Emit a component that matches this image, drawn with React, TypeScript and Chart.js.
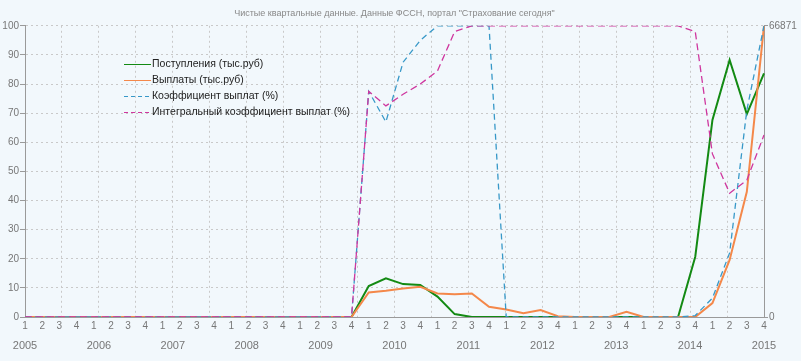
import React, { useEffect, useRef } from "react";
import { Chart, registerables } from "chart.js";

Chart.register(...registerables);

const titleText = 'Чистые квартальные данные. Данные ФССН, портал "Страхование сегодня"';

const quarterLabels: string[] = [
  "1", "2", "3", "4", "1", "2", "3", "4", "1", "2", "3", "4",
  "1", "2", "3", "4", "1", "2", "3", "4", "1", "2", "3", "4",
  "1", "2", "3", "4", "1", "2", "3", "4", "1", "2", "3", "4",
  "1", "2", "3", "4", "1", "2", "3", "4",
];

const yearMin = 2005;
const yearMax = 2015;

const seriesNames = [
  "Поступления (тыс.руб)",
  "Выплаты (тыс.руб)",
  "Коэффициент выплат (%)",
  "Интегральный коэффициент выплат (%)",
];

// thousand rubles (right axis)
const receipts: number[] = [
  0, 0, 0, 0, 0, 0, 0, 0, 0, 0, 0, 0, 0, 0, 0, 0, 0, 0, 0, 0,
  7090, 8894, 7556, 7356, 4681, 669, 0, 0, 0, 0, 0, 0, 0, 0, 0, 0,
  0, 0, 0, 13842, 45272, 59047, 46609, 55971,
];

const payments: number[] = [
  0, 0, 0, 0, 0, 0, 0, 0, 0, 0, 0, 0, 0, 0, 0, 0, 0, 0, 0, 0,
  5617, 6018, 6553, 6955, 5417, 5216, 5417, 2340, 1739, 869, 1605, 200,
  0, 0, 0, 1204, 0, 0, 0, 0, 3210, 13107, 28755, 66871,
];

// percent (left axis)
const ratio: number[] = [
  0, 0, 0, 0, 0, 0, 0, 0, 0, 0, 0, 0, 0, 0, 0, 0, 0, 0, 0, 0,
  77.5, 67, 87.5, 95, 100, 100, 100, 100, 0, 0, 0, 0, 0, 0, 0, 0,
  0, 0, 0, 0.5, 6.5, 22, 71, 100,
];

const integral: number[] = [
  0, 0, 0, 0, 0, 0, 0, 0, 0, 0, 0, 0, 0, 0, 0, 0, 0, 0, 0, 0,
  77.5, 72.5, 76.5, 80, 84.5, 98, 100, 100, 100, 100, 100, 100,
  100, 100, 100, 100, 100, 100, 100, 98, 56, 42.5, 47, 62.5,
];

const rightMax = 66871;
const rightTicks = [0, rightMax];

const colors = ["#138a13", "#f4884a", "#3798c8", "#cf379f"];
const dashes: number[][] = [[], [], [6, 4], [7, 4]];

const bgColor = "#f2f8fc";
const tickFont = "'Liberation Sans', Arial, sans-serif";

export default function App() {
  const ref = useRef<HTMLCanvasElement | null>(null);

  useEffect(() => {
    if (!ref.current) return;

    const bgPlugin = {
      id: "bg",
      beforeDraw(chart: any) {
        const { ctx, width, height } = chart;
        ctx.save();
        ctx.fillStyle = bgColor;
        ctx.fillRect(0, 0, width, height);
        ctx.restore();
      },
    };

    const legendPlugin = {
      id: "customLegend",
      afterDraw(chart: any) {
        const { ctx } = chart;
        const x0 = 124;
        const x1 = 151;
        const y0 = 63.5;
        const step = 16.3;
        ctx.save();
        ctx.font = "10.5px 'Liberation Sans', Arial, sans-serif";
        ctx.textBaseline = "middle";
        ctx.textAlign = "left";
        seriesNames.forEach((name, i) => {
          const y = Math.round(y0 + i * step) + 0.5;
          ctx.strokeStyle = colors[i];
          ctx.lineWidth = 1;
          ctx.setLineDash(i < 2 ? [] : [4, 3]);
          ctx.beginPath();
          ctx.moveTo(x0, y);
          ctx.lineTo(x1, y);
          ctx.stroke();
          ctx.setLineDash([]);
          ctx.fillStyle = "#222";
          ctx.fillText(name, x1 + 1, y);
        });
        ctx.restore();
      },
    };

    const chart = new Chart(ref.current, {
      type: "line",
      data: {
        labels: quarterLabels,
        datasets: [
          {
            label: seriesNames[0],
            data: receipts,
            yAxisID: "yR",
            xAxisID: "x",
            borderColor: colors[0],
            borderWidth: 2,
            pointRadius: 0,
            order: 3,
          },
          {
            label: seriesNames[1],
            data: payments,
            yAxisID: "yR",
            xAxisID: "x",
            borderColor: colors[1],
            borderWidth: 2,
            pointRadius: 0,
            order: 2,
          },
          {
            label: seriesNames[2],
            data: ratio,
            yAxisID: "y",
            xAxisID: "x",
            borderColor: colors[2],
            borderWidth: 1.3,
            borderDash: dashes[2],
            pointRadius: 0,
            order: 1,
          },
          {
            label: seriesNames[3],
            data: integral,
            yAxisID: "y",
            xAxisID: "x",
            borderColor: colors[3],
            borderWidth: 1.3,
            borderDash: dashes[3],
            pointRadius: 0,
            order: 0,
          },
        ],
      },
      options: {
        responsive: false,
        animation: false,
        events: [],
        layout: { padding: 0 },
        plugins: {
          legend: { display: false },
          tooltip: { enabled: false },
          title: {
            display: true,
            text: titleText,
            fullSize: false,
            color: "#888",
            font: { size: 9, family: tickFont, weight: "normal" },
            padding: { top: 8, bottom: 7 },
          },
        },
        scales: {
          x: {
            type: "category",
            position: "bottom",
            offset: false,
            grid: { display: false, drawTicks: false },
            border: { display: true, color: "#9a9a9a" },
            ticks: {
              color: "#777",
              font: { size: 10, family: tickFont },
              autoSkip: false,
              maxRotation: 0,
              padding: 3,
            },
            afterFit: (s: any) => {
              s.height = 18;
            },
          },
          xYear: {
            type: "linear",
            position: "bottom",
            min: yearMin,
            max: yearMax,
            grid: {
              display: true,
              drawOnChartArea: true,
              drawTicks: false,
              color: "#c9c9c9",
            },
            border: { display: false, dash: [2, 3] },
            ticks: {
              stepSize: 0.5,
              autoSkip: false,
              maxRotation: 0,
              color: "#777",
              font: { size: 11, family: tickFont },
              padding: 4,
              callback: (v: any) => (Number.isInteger(v) ? String(v) : ""),
            },
            afterFit: (s: any) => {
              s.height = 26;
            },
          },
          y: {
            type: "linear",
            position: "left",
            min: 0,
            max: 100,
            ticks: {
              stepSize: 10,
              color: "#777",
              font: { size: 10, family: tickFont },
              padding: 1,
            },
            grid: {
              color: "#c9c9c9",
              tickLength: 5,
              tickColor: "#9a9a9a",
            },
            border: { display: true, color: "#9a9a9a", dash: [2, 3] },
            afterFit: (s: any) => {
              s.width = 25;
            },
          },
          yR: {
            type: "linear",
            position: "right",
            min: 0,
            max: rightMax,
            afterBuildTicks: (axis: any) => {
              axis.ticks = rightTicks.map((v) => ({ value: v }));
            },
            ticks: {
              color: "#777",
              font: { size: 10, family: tickFont },
              padding: 1,
              callback: (v: any) => String(v),
            },
            grid: {
              drawOnChartArea: false,
              tickLength: 4,
              color: "#9a9a9a",
            },
            border: { display: true, color: "#9a9a9a" },
            afterFit: (s: any) => {
              s.width = 37;
            },
          },
        },
      },
      plugins: [bgPlugin, legendPlugin],
    } as any);

    return () => chart.destroy();
  }, []);

  return (
    <div style={{ position: "fixed", left: 0, top: 0, width: 801, height: 361, background: bgColor }}>
      <canvas ref={ref} width={801} height={361} style={{ display: "block" }} />
    </div>
  );
}
